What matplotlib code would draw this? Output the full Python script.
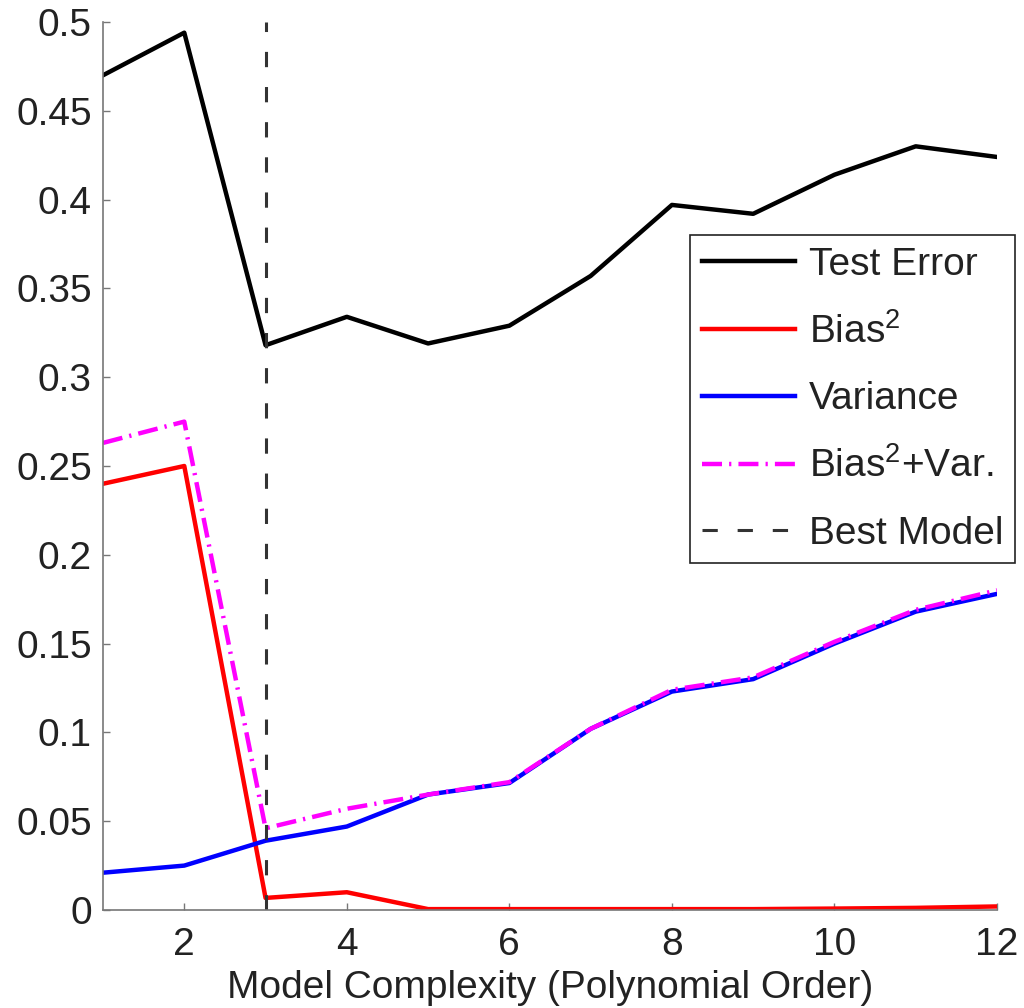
import matplotlib
matplotlib.use("Agg")
from matplotlib import pyplot as plt
from matplotlib.ticker import FormatStrFormatter

order = [1, 2, 3, 4, 5, 6, 7, 8, 9, 10, 11, 12]
test_error = [0.470, 0.494, 0.318, 0.334, 0.319, 0.329, 0.357, 0.397, 0.392, 0.414, 0.430, 0.424]
bias_sq = [0.240, 0.250, 0.0068, 0.010, 0.0005, 0.0005, 0.0005, 0.0005, 0.0005, 0.0008, 0.0012, 0.002]
variance = [0.021, 0.025, 0.039, 0.047, 0.065, 0.0715, 0.102, 0.123, 0.130, 0.150, 0.168, 0.178]
bias_var = [0.263, 0.275, 0.046, 0.057, 0.065, 0.072, 0.102, 0.124, 0.131, 0.151, 0.169, 0.180]
best_model = 3

plt.rcParams['font.family'] = ['Liberation Sans', 'DejaVu Sans']
plt.rcParams['mathtext.fontset'] = 'custom'
plt.rcParams['mathtext.rm'] = 'Liberation Sans'

fs = 28

fig = plt.figure(figsize=(10.24, 10.08), dpi=100)
ax = fig.add_axes([103 / 1024, 98 / 1008, 894 / 1024, 888 / 1008])

ax.plot(order, test_error, color='black', lw=3.2, label='Test Error')
ax.plot(order, bias_sq, color='#ff0000', lw=3.2, label='Bias$^2$')
ax.plot(order, variance, color='#0000ff', lw=3.2, label='Variance')
ax.plot(order, bias_var, color='#ff00ff', lw=3.2, dashes=(4.5, 1.6, 0.5, 1.6),
        label='Bias$^2$+Var.')
ax.plot([best_model, best_model], [0, 0.5], color='#333333', lw=2.2,
        dashes=(5, 6.5), label='Best Model')

ax.set_xlim(1, 12)
ax.set_ylim(0, 0.5)
ax.set_xticks([2, 4, 6, 8, 10, 12])
ax.set_yticks([i * 0.05 for i in range(11)])
ax.yaxis.set_major_formatter(FormatStrFormatter('%g'))

for s in ['top', 'right']:
    ax.spines[s].set_visible(False)
for s in ['left', 'bottom']:
    ax.spines[s].set_color('#777777')
    ax.spines[s].set_linewidth(1.2)

ax.tick_params(direction='in', length=5, width=1, color='#777777',
               labelsize=fs, labelcolor='#222222')
ax.tick_params(axis='y', pad=8)
ax.tick_params(axis='x', pad=12)

ax.set_xlabel('Model Complexity (Polynomial Order)', fontsize=fs,
              color='#222222', labelpad=5)

leg = ax.legend(loc='upper right', bbox_to_anchor=(1015 / 1024, 1 - 235 / 1008),
                bbox_transform=fig.transFigure, borderaxespad=0, fancybox=False,
                edgecolor='#222222', framealpha=1, fontsize=fs,
                handlelength=2.4, handletextpad=0.35, labelspacing=0.78,
                borderpad=0.3)
leg.get_frame().set_linewidth(1.2)
for t in leg.get_texts():
    t.set_color('#222222')

fig.savefig('out.png', dpi=100)
